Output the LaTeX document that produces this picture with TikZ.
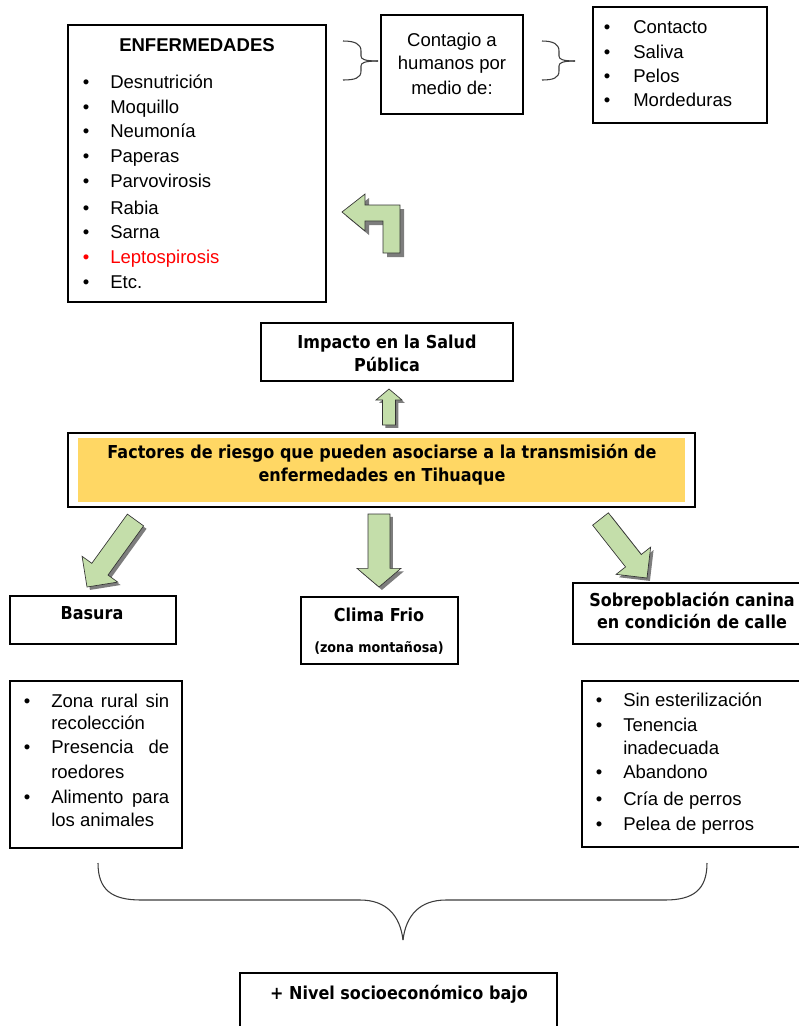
\documentclass[tikz,border=0pt]{standalone}
\usepackage{fontspec}
\setmainfont{Liberation Sans}
\newfontfamily\headfont{DejaVu Sans}[FakeStretch=0.9]
\usetikzlibrary{calc,fit}

\definecolor{arrowgreen}{RGB}{196,222,170}
\definecolor{bandyellow}{RGB}{255,215,100}
\definecolor{leptored}{RGB}{255,0,0}
\definecolor{shadowgray}{RGB}{125,125,125}
\definecolor{braceline}{RGB}{60,60,60}

\tikzset{
  frame/.style={draw=black, line width=1.1pt, inner sep=0pt},
  item/.style={anchor=base west, inner sep=0pt, font=\fontsize{13.9}{16}\selectfont},
  dot/.style={anchor=base, inner sep=0pt, font=\fontsize{13.9}{16}\selectfont},
  plain/.style={anchor=base, inner sep=0pt, font=\fontsize{13.9}{16}\selectfont},
  bold/.style={anchor=base, inner sep=0pt, font=\bfseries\fontsize{13.9}{16}\selectfont},
  head/.style={anchor=base, inner sep=0pt, font=\headfont\bfseries\fontsize{13.35}{16}\selectfont},
  smallhead/.style={anchor=base, inner sep=0pt, font=\headfont\bfseries\fontsize{10.6}{12}\selectfont},
  blockarrow/.style={fill=arrowgreen, draw=black!80, line width=0.5pt, line join=miter},
  bracestyle/.style={draw=braceline, line width=0.8pt},
}

% outline of a straight block arrow: start, tip, shaft half width, head half width, head base point
\newcommand\blockpath[5]{%
  ($(#1)!#3!90:(#2)$) -- ($(#5)!#3!90:(#2)$) -- ($(#5)!#4!90:(#2)$) -- (#2) --
  ($(#5)!#4!-90:(#2)$) -- ($(#5)!#3!-90:(#2)$) -- ($(#1)!#3!-90:(#2)$) -- cycle}

% green block arrow with drop shadow: name, start, tip, shaft half, head half, head length
\newcommand\greenarrow[6]{%
  \coordinate (#1-h) at ($(#3)!#6!(#2)$);
  \begin{scope}[transform canvas={shift={(2.2pt,-2.2pt)}}]
    \fill[shadowgray] \blockpath{#2}{#3}{#4}{#5}{#1-h};
  \end{scope}
  \filldraw[blockarrow] \blockpath{#2}{#3}{#4}{#5}{#1-h};
}

\begin{document}
\begin{tikzpicture}[x=0.75pt,y=-0.75pt]
\useasboundingbox (0,0) rectangle (799,1026);
\clip (0,0) rectangle (799,1026);

% ---------- diseases ----------
\node[frame, fit={(68,25) (326,302)}] (enf) {};
\node[bold] (enf-title) at (197,51) {ENFERMEDADES};
\foreach \t/\y [count=\i] in {Desnutrición/88, Moquillo/113, Neumonía/137, Paperas/162,
    Parvovirosis/187, Rabia/214, Sarna/238, Etc./288} {
  \node[dot] (enf-b\i) at (86,\y) {•};
  \node[item] (enf-t\i) at (110,\y) {\t};
}
\node[dot, text=leptored] (enf-bL) at (86,263) {•};
\node[item, text=leptored] (enf-tL) at (110,263) {Leptospirosis};

% ---------- transmission to humans ----------
\coordinate (br1-tip) at (378,61);
\draw[bracestyle] (343,41) .. controls (355,41) and (361,44) .. (361,51) -- (361,56)
  .. controls (361,59) and (364,61) .. (br1-tip);
\draw[bracestyle] (br1-tip) .. controls (364,61) and (361,63) .. (361,66) -- (361,71)
  .. controls (361,78) and (355,80) .. (343,80);

\node[frame, fit={(381,15) (523,114)}] (cont) {};
\node[plain] (cont-1) at (452,46) {Contagio a};
\node[plain] (cont-2) at (452,69) {humanos por};
\node[plain] (cont-3) at (452,94) {medio de:};

\coordinate (br2-tip) at (575,61);
\draw[bracestyle] (542,41) .. controls (553,41) and (559,44) .. (559,51) -- (559,56)
  .. controls (559,59) and (562,61) .. (br2-tip);
\draw[bracestyle] (br2-tip) .. controls (562,61) and (559,63) .. (559,66) -- (559,71)
  .. controls (559,78) and (553,80) .. (542,80);

\node[frame, fit={(593,7) (767,123)}] (via) {};
\foreach \t/\y [count=\i] in {Contacto/33, Saliva/58, Pelos/82, Mordeduras/106} {
  \node[dot] (via-b\i) at (607,\y) {•};
  \node[item] (via-t\i) at (633,\y) {\t};
}

% ---------- bent arrow towards the disease list ----------
\begin{scope}[transform canvas={shift={(3pt,-3pt)}}]
  \fill[shadowgray] (342,212) -- (365,194) -- (365,205) -- (400,205) -- (400,253)
    -- (383,253) -- (383,221) -- (365,221) -- (365,231) -- cycle;
\end{scope}
\filldraw[blockarrow] (342,212) coordinate (bent-tip) -- (365,194) -- (365,205) -- (400,205)
  -- (400,253) -- (383,253) -- (383,221) -- (365,221) -- (365,231) -- cycle;

% ---------- public health impact ----------
\node[frame, fit={(261,323) (513,381)}] (imp) {};
\node[head] (imp-1) at (387,348.5) {Impacto en la Salud};
\node[head] (imp-2) at (387,371.5) {Pública};

\coordinate (up-s) at (389,425);
\coordinate (up-t) at (389,389);
\greenarrow{up}{up-s}{up-t}{4.9pt}{9.75pt}{8.25pt}

% ---------- risk factors ----------
\node[fill=bandyellow, inner sep=0pt, fit={(78,438) (685,502)}] (band) {};
\node[frame, fit={(68,433) (695,507)}] (fact) {};
\node[head] (fact-1) at (382,458.5) {Factores de riesgo que pueden asociarse a la transmisión de};
\node[head] (fact-2) at (382,481.5) {enfermedades en Tihuaque};

\coordinate (al-s) at (135.5,520);
\coordinate (al-t) at (87,587);
\greenarrow{al}{al-s}{al-t}{7.5pt}{16.5pt}{16.5pt}
\coordinate (am-s) at (379,514);
\coordinate (am-t) at (379,587);
\greenarrow{am}{am-s}{am-t}{8.25pt}{16.5pt}{14pt}
\coordinate (ar-s) at (600.5,519);
\coordinate (ar-t) at (647,578);
\greenarrow{ar}{ar-s}{ar-t}{7.5pt}{16.5pt}{16.5pt}

% ---------- factor boxes ----------
\node[frame, fit={(10,596) (176,644)}] (bas) {};
\node[head] (bas-t) at (92,619.5) {Basura};

\node[frame, fit={(301,597) (458,664)}] (cli) {};
\node[head] (cli-t) at (379,621.5) {Clima Frio};
\node[smallhead] (cli-s) at (379,652) {(zona montañosa)};

\node[frame, fit={(573,583) (812,644)}] (sob) {};
\node[head] (sob-1) at (692,606.5) {Sobrepoblación canina};
\node[head] (sob-2) at (692,628.5) {en condición de calle};

% ---------- detail lists ----------
\node[frame, fit={(10,681) (182,848)}] (basl) {};
\node[dot] (basl-b1) at (27,707) {•};
\node[item] (basl-t1) at (51,707) {\makebox[88.5pt][s]{Zona rural sin}};
\node[item] (basl-t2) at (51,729) {recolección};
\node[dot] (basl-b3) at (27,753) {•};
\node[item] (basl-t3) at (51,753) {\makebox[88.5pt][s]{Presencia de}};
\node[item] (basl-t4) at (51,778) {roedores};
\node[dot] (basl-b5) at (27,803) {•};
\node[item] (basl-t5) at (51,803) {\makebox[88.5pt][s]{Alimento para}};
\node[item] (basl-t6) at (51,826) {los animales};

\node[frame, fit={(582,681) (812,847)}] (sobl) {};
\node[dot] (sobl-b1) at (599,706) {•};
\node[item] (sobl-t1) at (623,706) {Sin esterilización};
\node[dot] (sobl-b2) at (599,731) {•};
\node[item] (sobl-t2) at (623,731) {Tenencia};
\node[item] (sobl-t3) at (623,754) {inadecuada};
\node[dot] (sobl-b4) at (599,778) {•};
\node[item] (sobl-t4) at (623,778) {Abandono};
\node[dot] (sobl-b5) at (599,805) {•};
\node[item] (sobl-t5) at (623,805) {Cría de perros};
\node[dot] (sobl-b6) at (599,830) {•};
\node[item] (sobl-t6) at (623,830) {Pelea de perros};

% ---------- joining brace and socioeconomic level ----------
\coordinate (bb-l) at (98,863);
\coordinate (bb-r) at (707,863);
\coordinate (bb-tip) at (403,940);
\draw[bracestyle] (bb-l) .. controls (98,890) and (112,900) .. (141,900) -- (360,900)
  .. controls (386,900) and (400,915) .. (bb-tip);
\draw[bracestyle] (bb-r) .. controls (707,890) and (693,900) .. (665,900) -- (446,900)
  .. controls (420,900) and (406,915) .. (bb-tip);

\node[frame, fit={(240,973) (557,1045)}] (niv) {};
\node[head] (niv-t) at (399,999.5) {+ Nivel socioeconómico bajo};

\end{tikzpicture}
\end{document}
